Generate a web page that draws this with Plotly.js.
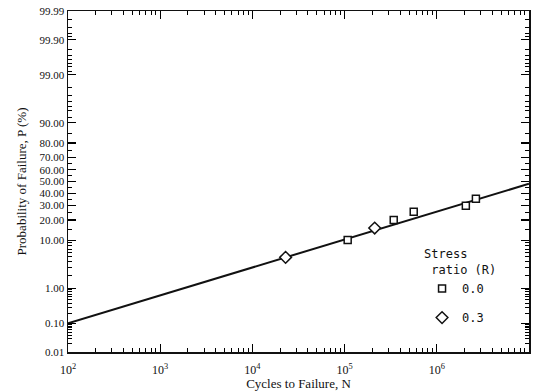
<!DOCTYPE html>
<html>
<head>
<meta charset="utf-8">
<script src="https://cdn.plot.ly/plotly-3.0.1.min.js"></script>
<style>html,body{margin:0;padding:0;background:#fff}#chart{width:537px;height:391px}</style>
</head>
<body>
<div id="chart"></div>
<script>
// ---- data ----
var r0Cycles = [108000, 341000, 562000, 2065000, 2655000];   // stress ratio R = 0.0
var r0Prob   = [10.1, 20.1, 25.4, 29.9, 35.4];                 // P (%)
var r3Cycles = [22900, 212000];                                // stress ratio R = 0.3
var r3Prob   = [4.9, 15.5];
var fitCycles = [1e2, 1e7];                                    // fitted line end points
var fitProb   = [0.10, 48.0];
var yTickProb = [0.01, 0.10, 1.00, 10.00, 20.00, 30.00, 40.00, 50.00, 60.00, 70.00, 80.00, 90.00, 99.00, 99.90, 99.99];
var yTickText = ['0.01','0.10','1.00','10.00','20.00','30.00','40.00','50.00','60.00','70.00','80.00','90.00','99.00','99.90','99.99'];
var yMinorProb = [0.02,0.03,0.04,0.05,0.06,0.07,0.08,0.09,0.2,0.3,0.4,0.5,0.6,0.7,0.8,0.9,2,3,4,5,6,7,8,9,15,25,35,45,55,65,75,85,92,94,95,96,97,98,99.2,99.4,99.5,99.6,99.7,99.8,99.92,99.94,99.96,99.98];
var xTickVals = [1e2, 1e3, 1e4, 1e5, 1e6, 1e7];
var xTickText = ['10<sup>2</sup>','10<sup>3</sup>','10<sup>4</sup>','10<sup>5</sup>','10<sup>6</sup>','10<sup>7</sup>'];

// ---- normal probability scale (probit) ----
function probit(pct) {
  var p = pct / 100;
  var a=[-3.969683028665376e+01,2.209460984245205e+02,-2.759285104469687e+02,1.383577518672690e+02,-3.066479806614716e+01,2.506628277459239e+00];
  var b=[-5.447609879822406e+01,1.615858368580409e+02,-1.556989798598866e+02,6.680131188771972e+01,-1.328068155288572e+01];
  var c=[-7.784894002430293e-03,-3.223964580411365e-01,-2.400758277161838e+00,-2.549671010336546e+00,4.374664141464968e+00,2.938163982698783e+00];
  var d=[7.784695709041462e-03,3.224671290700398e-01,2.445134137142996e+00,3.754408661907416e+00];
  var pl=0.02425, q, r;
  if (p < pl) { q=Math.sqrt(-2*Math.log(p)); return (((((c[0]*q+c[1])*q+c[2])*q+c[3])*q+c[4])*q+c[5])/((((d[0]*q+d[1])*q+d[2])*q+d[3])*q+1); }
  if (p > 1-pl) { q=Math.sqrt(-2*Math.log(1-p)); return -(((((c[0]*q+c[1])*q+c[2])*q+c[3])*q+c[4])*q+c[5])/((((d[0]*q+d[1])*q+d[2])*q+d[3])*q+1); }
  q=p-0.5; r=q*q;
  return (((((a[0]*r+a[1])*r+a[2])*r+a[3])*r+a[4])*r+a[5])*q/(((((b[0]*r+b[1])*r+b[2])*r+b[3])*r+b[4])*r+1);
}
var xMinor = [];
for (var e = 2; e < 7; e++) for (var m = 2; m <= 9; m++) xMinor.push(m * Math.pow(10, e));

var font = 'Liberation Serif, Times New Roman, serif';
var mono = 'DejaVu Sans Mono, monospace';
var yRange = [probit(0.01), probit(99.99)];

var traces = [
  {x: fitCycles, y: fitProb.map(probit), mode: 'lines', line: {color: '#111', width: 2}, showlegend: false, hoverinfo: 'skip'},
  {x: r0Cycles, y: r0Prob.map(probit), mode: 'markers', name: '0.0', legendgroup: 'a',
   marker: {symbol: 'square', size: 7, color: '#fff', line: {color: '#111', width: 1.5}}},
  {x: r3Cycles, y: r3Prob.map(probit), mode: 'markers', name: '0.3', legendgroup: 'b',
   marker: {symbol: 'diamond', size: 9, color: '#fff', line: {color: '#111', width: 1.5}}},
  // carrier for the minor-tick overlay axes
  {x: [1e2], y: [0], xaxis: 'x2', yaxis: 'y2', mode: 'markers', marker: {opacity: 0}, showlegend: false, hoverinfo: 'skip'}
];

var layout = {
  width: 537, height: 391,
  margin: {l: 68, r: 8, t: 11, b: 39},
  paper_bgcolor: '#fff', plot_bgcolor: '#fff',
  font: {family: font, size: 12, color: '#111'},
  showlegend: true,
  legend: {x: 0.768, y: 0.32, xanchor: 'left', yanchor: 'top', bgcolor: 'rgba(0,0,0,0)',
           traceorder: 'grouped', tracegroupgap: 10,
           title: {text: 'Stress<br> ratio (R)', font: {family: mono, size: 12}},
           font: {family: mono, size: 12}},
  xaxis: {type: 'log', range: [2, 7], tickmode: 'array', tickvals: xTickVals, ticktext: xTickText,
          ticks: 'inside', ticklen: 8, tickwidth: 1.2, tickcolor: '#000', layer: 'above traces',
          showline: true, linecolor: '#111', linewidth: 1.5, mirror: 'ticks',
          showgrid: false, zeroline: false, ticklabelstandoff: 6,
          title: {text: 'Cycles to Failure, N', font: {family: font, size: 13}, standoff: 2},
          tickfont: {family: font, size: 12}},
  yaxis: {range: yRange, tickmode: 'array', tickvals: yTickProb.map(probit), ticktext: yTickText,
          ticks: 'inside', ticklen: 8, tickwidth: 1.2, tickcolor: '#000', layer: 'above traces',
          showline: true, linecolor: '#111', linewidth: 1.5, mirror: 'ticks',
          showgrid: false, zeroline: false,
          title: {text: 'Probability of Failure, P (%)', font: {family: font, size: 13}, standoff: 10},
          tickfont: {family: font, size: 11}},
  xaxis2: {type: 'log', range: [2, 7], overlaying: 'x', anchor: 'y2', side: 'bottom',
           tickmode: 'array', tickvals: xMinor, showticklabels: false,
           ticks: 'inside', ticklen: 4, tickwidth: 1, tickcolor: '#000',
           showline: false, mirror: 'ticks', showgrid: false, zeroline: false},
  yaxis2: {range: yRange, overlaying: 'y', anchor: 'x2', side: 'left',
           tickmode: 'array', tickvals: yMinorProb.map(probit), showticklabels: false,
           ticks: 'inside', ticklen: 4, tickwidth: 1, tickcolor: '#000',
           showline: false, mirror: 'ticks', showgrid: false, zeroline: false}
};

Plotly.newPlot('chart', traces, layout, {staticPlot: true, displayModeBar: false});
</script>
</body>
</html>
